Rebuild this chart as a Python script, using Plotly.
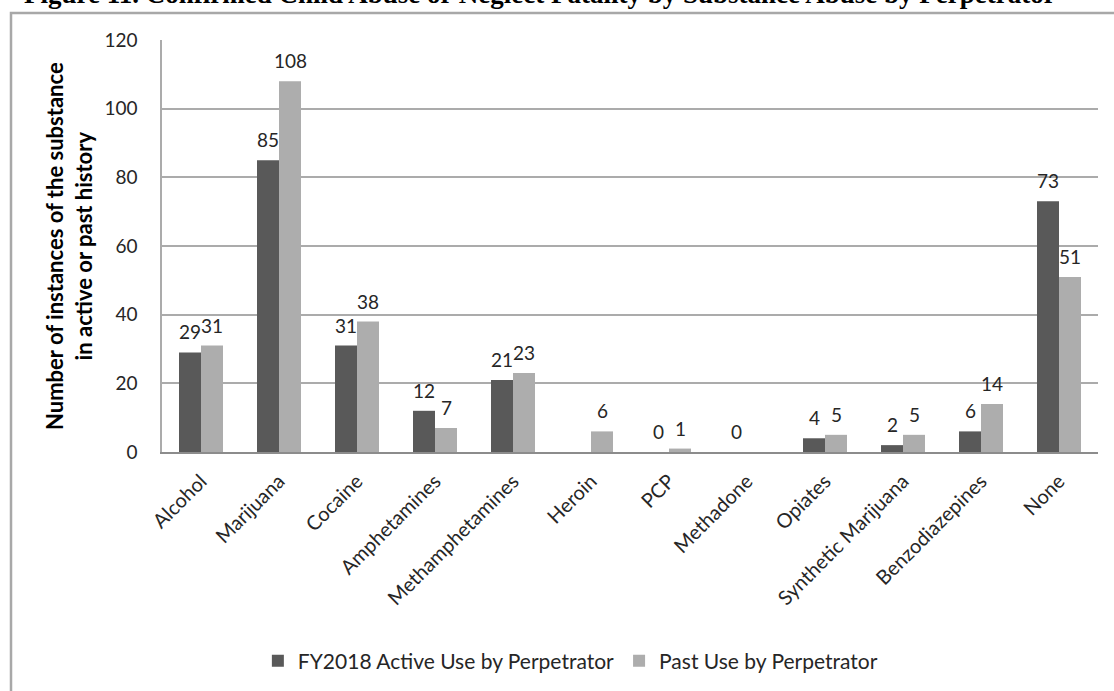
import plotly.graph_objects as go

categories = ["Alcohol", "Marijuana", "Cocaine", "Amphetamines", "Methamphetamines",
              "Heroin", "PCP", "Methadone", "Opiates", "Synthetic Marijuana",
              "Benzodiazepines", "None"]
active_use = [29, 85, 31, 12, 21, None, 0, 0, 4, 2, 6, 73]
past_use = [31, 108, 38, 7, 23, 6, 1, None, 5, 5, 14, 51]
series_names = ["FY2018 Active Use by Perpetrator", "Past Use by Perpetrator"]
y_ticks = [0, 20, 40, 60, 80, 100, 120]
title_text = "Figure 11. Confirmed Child Abuse or Neglect Fatality by Substance Abuse by Perpetrator"
y_title = "Number of instances of the substance<br>in active or past history"

FONT = "Lato"
TXT = "#262626"

fig = go.Figure()
for name, vals, col in [(series_names[0], active_use, "#595959"),
                        (series_names[1], past_use, "#adadad")]:
    fig.add_trace(go.Bar(
        x=categories, y=vals, name=name, marker=dict(color=col, line=dict(width=0)),
    ))

# value labels placed over each bar of the group
for vals, xs in [(active_use, -11), (past_use, 11)]:
    for c, v in zip(categories, vals):
        if v is None:
            continue
        fig.add_annotation(x=c, y=v, text=str(v), showarrow=False, xref="x", yref="y",
                           xanchor="center", yanchor="bottom", xshift=xs, yshift=7,
                           font=dict(family=FONT, size=19, color=TXT))

fig.update_layout(
    width=1114, height=691,
    margin=dict(l=162, r=16, t=40, b=239),
    paper_bgcolor="white", plot_bgcolor="white",
    barmode="group", bargap=0.436, bargroupgap=0,
    font=dict(family=FONT, color=TXT),
    showlegend=True,
    legend=dict(orientation="h", xref="container", yref="container",
                x=0.512, xanchor="center", y=1 - 661 / 691, yanchor="middle",
                font=dict(family=FONT, size=21, color=TXT),
                itemwidth=30, traceorder="normal"),
)
fig.update_yaxes(range=[0, 120], tickvals=y_ticks, showgrid=True,
                 gridcolor="#ababab", gridwidth=1.5, zeroline=False,
                 showline=True, linecolor="#ababab", linewidth=1.5,
                 tickfont=dict(family=FONT, size=19, color=TXT),
                 ticks="", ticklabelstandoff=19)
fig.update_xaxes(showline=True, linecolor="#8c8c8c", linewidth=1.5,
                 tickangle=-45, tickfont=dict(family=FONT, size=20, color=TXT),
                 ticks="", ticklabelstandoff=8)

# y-axis title as annotation
fig.add_annotation(text=y_title, xref="paper", yref="paper", x=(69 - 162) / 936, y=0.5,
                   textangle=-90, showarrow=False, xanchor="center", yanchor="middle",
                   font=dict(family=FONT, size=22, color="#000000", weight="bold"))

# partially cropped figure title at the very top
fig.add_annotation(text=title_text, xref="paper", yref="paper",
                   x=(540 - 162) / 936, y=(452 - 11) / 412, xanchor="center", yanchor="bottom",
                   showarrow=False,
                   font=dict(family="Liberation Serif", size=27, color="#000000", weight="bold"))

# frame around chart
fig.add_shape(type="rect", xref="paper", yref="paper",
              x0=(11 - 162) / 936, x1=(1125 - 162) / 936,
              y0=(452 - 720) / 412, y1=(452 - 13) / 412,
              line=dict(color="#a8a8a8", width=2.5), layer="below")

fig.write_html("out.html", config={"displayModeBar": False},
               post_script="document.body.style.margin='0px';")
